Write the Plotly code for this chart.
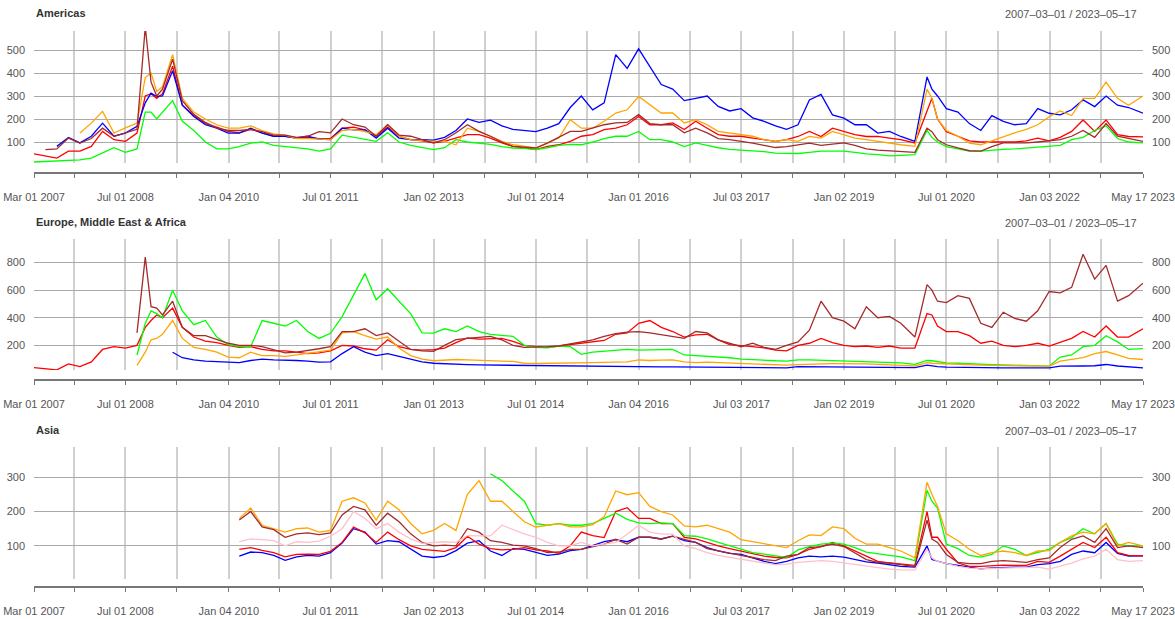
import plotly.graph_objects as go

# observation dates shared by every series (roughly bi-monthly, denser around the crises)
DATES = [
    "2007-03-01", "2007-05-01", "2007-07-01", "2007-09-01", "2007-11-01",
    "2008-01-01", "2008-03-01", "2008-05-01", "2008-07-01", "2008-09-01", "2008-10-15", "2008-11-15", "2008-12-15",
    "2009-01-15", "2009-03-10", "2009-05-01", "2009-07-01", "2009-09-01", "2009-11-01",
    "2010-01-01", "2010-03-01", "2010-05-01", "2010-07-01", "2010-09-01", "2010-11-01",
    "2011-01-01", "2011-03-01", "2011-05-01", "2011-07-01", "2011-09-01", "2011-11-01",
    "2012-01-01", "2012-03-01", "2012-05-01", "2012-07-01", "2012-09-01", "2012-11-01",
    "2013-01-01", "2013-03-01", "2013-05-01", "2013-07-01", "2013-09-01", "2013-11-01",
    "2014-01-01", "2014-03-01", "2014-05-01", "2014-07-01", "2014-09-01", "2014-11-01",
    "2015-01-01", "2015-03-01", "2015-05-01", "2015-07-01", "2015-09-01", "2015-11-01",
    "2016-01-01", "2016-03-01", "2016-05-01", "2016-07-01", "2016-09-01", "2016-11-01",
    "2017-01-01", "2017-03-01", "2017-05-01", "2017-07-01", "2017-09-01", "2017-11-01",
    "2018-01-01", "2018-03-01", "2018-05-01", "2018-07-01", "2018-09-01", "2018-11-01",
    "2019-01-01", "2019-03-01", "2019-05-01", "2019-07-01", "2019-09-01", "2019-11-01",
    "2020-01-15", "2020-03-20", "2020-04-15", "2020-05-15", "2020-07-01", "2020-09-01", "2020-11-01",
    "2021-01-01", "2021-03-01", "2021-05-01", "2021-07-01", "2021-09-01", "2021-11-01",
    "2022-01-01", "2022-03-01", "2022-05-01", "2022-07-01", "2022-09-01", "2022-11-01",
    "2023-01-01", "2023-03-01", "2023-05-17",
]
N = None

# ---- Americas
AM_RED = [
    48, 38, 30, 60, 60, 81, 146, 110, 103, 139,
    300, 310, 290, 310, 430, 260, 215, 180, 165, 146,
    140, 155, 140, 125, 125, 117, 120, 115, 115, 160,
    165, 153, 125, 165, 125, 110, 105, 96, 103, 117,
    132, 132, 117, 96, 81, 74, 67, 81, 88, 103,
    125, 132, 154, 160, 175, 211, 175, 175, 183, 154,
    190, 160, 132, 125, 125, 117, 110, 103, 110, 124,
    146, 124, 160, 146, 132, 124, 124, 117, 110, 96,
    230, 290, 200, 145, 125, 105, 100, 100, 103, 100,
    105, 117, 105, 120, 146, 196, 146, 196, 132, 124, 122,
]
AM_BLUE = [
    N, N, 81, 120, 96, 125, 182, 125, 139, 168,
    270, 312, 298, 300, 410, 260, 211, 175, 160, 139,
    139, 160, 139, 125, 125, 117, 125, 113, 110, 160,
    153, 153, 117, 160, 117, 110, 110, 108, 120, 150,
    200, 185, 195, 170, 155, 150, 145, 160, 180, 250,
    300, 240, 270, 480, 420, 505, 430, 350, 330, 280,
    290, 300, 255, 235, 245, 205, 190, 170, 155, 175,
    283, 307, 218, 204, 175, 175, 139, 146, 124, 103,
    383, 330, 300, 245, 230, 180, 150, 215, 190, 175,
    180, 245, 225, 218, 240, 283, 254, 300, 260, 250, 225,
]
AM_GREEN = [
    13, 15, 16, 18, 22, 30, 52, 75, 55, 70,
    230, 230, 200, 230, 280, 190, 150, 100, 70, 70,
    80, 95, 100, 85, 80, 75, 70, 60, 70, 130,
    120, 110, 103, 140, 100, 85, 75, 67, 75, 110,
    100, 96, 90, 80, 74, 72, 67, 75, 85, 90,
    88, 100, 115, 125, 125, 146, 110, 110, 100, 80,
    96, 85, 75, 68, 65, 60, 58, 52, 52, 50,
    55, 60, 60, 60, 55, 48, 45, 40, 42, 45,
    150, 120, 100, 80, 70, 60, 60, 65, 68, 70,
    74, 78, 80, 85, 110, 120, 150, 170, 115, 100, 96,
]
AM_ORANGE = [
    N, N, N, N, 139, 182, 233, 139, 161, 182,
    380, 400, 320, 340, 480, 290, 230, 200, 175, 160,
    160, 170, 150, 135, 130, 115, 115, 112, 110, 150,
    155, 145, 132, 175, 125, 110, 105, 103, 103, 88,
    160, 146, 125, 103, 88, 80, 74, 96, 117, 197,
    160, 160, 190, 226, 240, 298, 262, 226, 226, 183,
    197, 175, 146, 139, 132, 125, 110, 103, 110, 103,
    124, 117, 146, 132, 117, 110, 103, 93, 88, 81,
    330, 290, 200, 150, 125, 95, 88, 105, 124, 140,
    155, 175, 210, 235, 215, 290, 290, 360, 290, 260, 300,
]
AM_BROWN = [
    N, 67, 70, 117, 95, 115, 160, 125, 139, 155,
    600, 360, 300, 330, 460, 280, 220, 185, 160, 150,
    150, 155, 145, 130, 130, 120, 125, 145, 140, 200,
    175, 165, 125, 175, 130, 125, 110, 96, 110, 140,
    175, 146, 125, 100, 81, 76, 74, 95, 120, 146,
    146, 160, 175, 183, 185, 219, 180, 175, 175, 140,
    160, 140, 115, 110, 103, 95, 85, 76, 80, 88,
    95, 85, 92, 96, 85, 70, 65, 62, 58, 55,
    160, 145, 110, 88, 74, 62, 60, 80, 96, 96,
    96, 100, 105, 110, 125, 150, 120, 180, 125, 115, 103,
]

# ---- Europe, Middle East & Africa
EM_RED = [
    38, 31, 22, 65, 45, 80, 170, 190, 180, 200,
    330, 380, 420, 400, 470, 330, 260, 230, 220, 200,
    185, 190, 170, 160, 160, 150, 140, 145, 160, 200,
    195, 175, 165, 240, 190, 170, 165, 169, 180, 220,
    253, 245, 245, 250, 229, 200, 190, 185, 195, 205,
    215, 225, 235, 280, 290, 360, 380, 330, 300, 260,
    275, 280, 240, 205, 195, 190, 181, 165, 160, 200,
    215, 250, 220, 200, 190, 195, 185, 195, 180, 180,
    430, 420, 340, 300, 300, 270, 215, 230, 200, 190,
    200, 215, 195, 220, 250, 300, 260, 340, 260, 260, 320,
]
EM_BLUE = [
    N, N, N, N, N, N, N, N, N, N,
    N, N, N, N, 150, 110, 95, 85, 82, 80,
    75, 90, 100, 95, 95, 90, 85, 78, 80, 140,
    190, 150, 125, 140, 120, 100, 80, 70, 65, 62,
    60, 58, 57, 55, 52, 50, 49, 48, 47, 46,
    46, 45, 45, 45, 45, 44, 44, 43, 43, 42,
    42, 40, 39, 38, 37, 35, 34, 33, 37, 45,
    44, 42, 42, 43, 42, 42, 41, 40, 40, 38,
    56, 50, 45, 42, 40, 38, 37, 37, 36, 37,
    37, 37, 37, 49, 48, 50, 52, 61, 50, 42, 37,
]
EM_GREEN = [
    N, N, N, N, N, N, N, N, N, 130,
    360, 450, 430, 400, 600, 450, 350, 380, 260, 205,
    190, 190, 380, 360, 340, 380, 300, 250, 287, 408,
    565, 720, 530, 610, 520, 430, 290, 289, 320, 300,
    340, 300, 280, 270, 265, 200, 185, 182, 195, 190,
    135, 150, 155, 165, 170, 165, 165, 165, 170, 130,
    125, 122, 120, 110, 100, 95, 90, 88, 86, 95,
    95, 92, 90, 82, 80, 80, 78, 75, 72, 62,
    90, 88, 80, 73, 70, 65, 62, 60, 58, 56,
    53, 50, 49, 115, 130, 190, 200, 270, 225, 170, 176,
]
EM_ORANGE = [
    N, N, N, N, N, N, N, N, N, 55,
    150, 240, 250, 280, 380, 250, 185, 170, 150, 115,
    110, 150, 125, 125, 120, 130, 140, 150, 165, 290,
    300, 270, 245, 260, 180, 125, 100, 88, 95, 97,
    95, 90, 88, 85, 83, 70, 68, 70, 72, 75,
    78, 75, 76, 78, 80, 95, 90, 92, 95, 80,
    75, 78, 75, 70, 68, 65, 62, 58, 56, 60,
    65, 66, 67, 68, 67, 65, 62, 60, 55, 50,
    75, 70, 68, 65, 62, 58, 56, 54, 52, 50,
    50, 49, 49, 85, 95, 110, 140, 155, 130, 105, 97,
]
EM_BROWN = [
    N, N, N, N, N, N, N, N, N, 290,
    840, 480, 470, 420, 520, 330, 270, 270, 240, 215,
    200, 200, 190, 165, 145, 150, 160, 175, 190, 300,
    300, 320, 270, 290, 230, 170, 160, 157, 200, 241,
    250, 255, 265, 240, 200, 185, 185, 190, 195, 210,
    220, 240, 265, 285, 295, 300, 290, 275, 265, 250,
    300, 290, 240, 215, 190, 215, 185, 170, 200, 225,
    310, 520, 400, 375, 320, 480, 400, 410, 360, 260,
    640, 600, 520, 510, 560, 540, 360, 330, 440, 395,
    375, 450, 590, 580, 620, 860, 680, 780, 520, 560, 650,
]

# ---- Asia
AS_BLUE = [
    N, N, N, N, N, N, N, N, N, N,
    N, N, N, N, N, N, N, N, N, N,
    70, 82, 80, 72, 58, 68, 72, 70, 80, 108,
    150, 140, 105, 115, 112, 90, 70, 66, 70, 86,
    108, 115, 85, 72, 92, 90, 80, 72, 76, 86,
    90, 102, 112, 118, 112, 125, 125, 120, 128, 115,
    110, 95, 85, 78, 75, 65, 55, 48, 55, 65,
    70, 68, 70, 67, 60, 53, 50, 45, 40, 38,
    100, 60, 55, 48, 43, 38, 33, 36, 38, 38,
    38, 45, 48, 55, 75, 85, 80, 110, 78, 70, 71,
]
AS_RED = [
    N, N, N, N, N, N, N, N, N, N,
    N, N, N, N, N, N, N, N, N, N,
    90, 95, 87, 80, 68, 75, 76, 75, 84, 110,
    155, 138, 110, 140, 118, 100, 90, 88, 84, 95,
    128, 105, 92, 88, 90, 95, 88, 85, 78, 100,
    140, 130, 124, 200, 211, 180, 180, 165, 165, 125,
    120, 110, 100, 92, 85, 76, 70, 66, 65, 75,
    90, 98, 110, 100, 86, 70, 55, 50, 46, 43,
    200, 125, 125, 90, 50, 40, 40, 43, 44, 43,
    43, 55, 52, 70, 90, 110, 95, 125, 80, 72, 71,
]
AS_GREEN = [
    N, N, N, N, N, N, N, N, N, N,
    N, N, N, N, N, N, N, N, N, N,
    N, N, N, N, N, N, N, N, N, N,
    N, N, N, N, N, N, N, N, N, N,
    N, N, 310, 290, 260, 230, 165, 160, 165, 160,
    160, 165, 180, 195, 177, 167, 165, 167, 165, 130,
    128, 120, 110, 100, 88, 80, 76, 70, 66, 88,
    98, 105, 108, 105, 95, 82, 76, 72, 68, 57,
    262, 230, 210, 105, 92, 72, 67, 75, 100, 90,
    72, 80, 90, 110, 124, 150, 135, 165, 105, 100, 100,
]
AS_ORANGE = [
    N, N, N, N, N, N, N, N, N, N,
    N, N, N, N, N, N, N, N, N, N,
    180, 210, 160, 150, 140, 150, 152, 140, 145, 230,
    240, 225, 175, 230, 205, 165, 135, 145, 165, 145,
    250, 290, 230, 230, 200, 170, 155, 160, 165, 155,
    155, 162, 185, 260, 249, 255, 215, 200, 190, 158,
    155, 160, 150, 140, 118, 112, 108, 100, 95, 115,
    132, 130, 155, 150, 122, 105, 105, 95, 85, 65,
    285, 250, 215, 135, 115, 90, 72, 80, 85, 80,
    72, 85, 86, 110, 129, 140, 135, 165, 100, 110, 100,
]
AS_BROWN = [
    N, N, N, N, N, N, N, N, N, N,
    N, N, N, N, N, N, N, N, N, N,
    175, 200, 155, 147, 125, 135, 138, 133, 138, 190,
    215, 205, 160, 195, 170, 135, 110, 100, 102, 100,
    150, 140, 115, 110, 102, 100, 92, 80, 82, 90,
    90, 98, 105, 119, 105, 125, 125, 120, 128, 119,
    110, 92, 85, 78, 72, 66, 60, 57, 70, 75,
    95, 98, 105, 98, 80, 60, 52, 50, 45, 40,
    175, 120, 110, 75, 52, 48, 48, 55, 57, 55,
    52, 60, 65, 95, 119, 129, 110, 150, 95, 100, 95,
]
AS_PINK = [
    N, N, N, N, N, N, N, N, N, N,
    N, N, N, N, N, N, N, N, N, N,
    112, 120, 118, 115, 100, 112, 110, 114, 128, 150,
    200, 180, 150, 165, 140, 120, 107, 110, 112, 110,
    130, 129, 129, 160, 148, 135, 125, 110, 100, 100,
    110, 100, 105, 110, 134, 160, 140, 134, 134, 100,
    92, 80, 72, 66, 62, 55, 50, 45, 47, 52,
    55, 57, 55, 50, 45, 40, 35, 32, 30, 29,
    90, 65, 55, 48, 40, 35, 33, 34, 35, 35,
    37, 38, 32, 40, 50, 62, 70, 90, 60, 55, 57,
]

# vertical grid / tick positions and their labels
GRID_DATES = [
    "2007-03-01", "2007-10-01", "2008-07-01", "2009-04-01", "2010-01-04", "2010-10-01",
    "2011-07-01", "2012-04-02", "2013-01-02", "2013-10-01", "2014-07-01", "2015-04-01",
    "2016-01-01", "2016-10-03", "2017-07-03", "2018-04-02", "2019-01-02", "2019-10-01",
    "2020-07-01", "2021-04-01", "2022-01-03", "2022-10-03", "2023-05-17",
]
LABELS_A = [
    "Mar 01 2007", "", "Jul 01 2008", "", "Jan 04 2010", "", "Jul 01 2011", "",
    "Jan 02 2013", "", "Jul 01 2014", "", "Jan 01 2016", "", "Jul 03 2017", "",
    "Jan 02 2019", "", "Jul 01 2020", "", "Jan 03 2022", "", "May 17 2023",
]
LABELS_B = [
    "Mar 01 2007", "", "Jul 01 2008", "", "Jan 04 2010", "", "Jul 01 2011", "",
    "Jan 01 2013", "", "Jul 01 2014", "", "Jan 04 2016", "", "Jul 03 2017", "",
    "Jan 02 2019", "", "Jul 01 2020", "", "Jan 03 2022", "", "May 17 2023",
]

PANELS = [
    dict(title="Americas", labels=LABELS_A, yrange=[8.7, 582.6], yticks=[100, 200, 300, 400, 500],
         series=[("red", AM_RED), ("blue", AM_BLUE), ("#00FF00", AM_GREEN),
                 ("orange", AM_ORANGE), ("brown", AM_BROWN)]),
    dict(title="Europe, Middle East & Africa", labels=LABELS_B, yrange=[21, 971], yticks=[200, 400, 600, 800],
         series=[("red", EM_RED), ("blue", EM_BLUE), ("#00FF00", EM_GREEN),
                 ("orange", EM_ORANGE), ("brown", EM_BROWN)]),
    dict(title="Asia", labels=LABELS_A, yrange=[3.4, 388], yticks=[100, 200, 300],
         series=[("blue", AS_BLUE), ("red", AS_RED), ("#00FF00", AS_GREEN),
                 ("orange", AS_ORANGE), ("brown", AS_BROWN), ("pink", AS_PINK)]),
]

H = 619
PLOT_TOP = [31, 239, 447]
PLOT_BOTTOM = [163, 370, 579]
AXIS_Y = [173, 380, 587]
TITLE_Y = [13, 222, 430]
FONT = "Liberation Sans, Arial, sans-serif"


def paper(px):
    return 1 - px / H


fig = go.Figure()
layout = dict(
    width=1175, height=H, autosize=False,
    margin=dict(l=34, r=32, t=0, b=0, autoexpand=False),
    paper_bgcolor="white", plot_bgcolor="white",
    showlegend=False, font=dict(family=FONT, size=11, color="#333333"),
    annotations=[],
)

for i, p in enumerate(PANELS):
    k = "" if i == 0 else str(i + 1)
    rk = str(i + 4)
    for color, vals in p["series"]:
        assert len(vals) == len(DATES)
        fig.add_trace(go.Scatter(
            x=DATES, y=vals, mode="lines", xaxis="x" + k, yaxis="y" + k,
            line=dict(color=color, width=1.3), hoverinfo="skip",
        ))
    # invisible trace so the right-hand tick axis gets drawn
    fig.add_trace(go.Scatter(x=[DATES[0]], y=[p["yticks"][0]], mode="lines",
                             xaxis="x" + k, yaxis="y" + rk, opacity=0, hoverinfo="skip"))

    layout["xaxis" + k] = dict(
        type="date", range=[DATES[0], DATES[-1]], domain=[0, 1],
        anchor="free", position=paper(AXIS_Y[i]), automargin=False,
        tickmode="array", tickvals=GRID_DATES, ticktext=p["labels"],
        showgrid=True, gridcolor="#d0d0d0", gridwidth=2,
        showline=True, linecolor="#777777", linewidth=1.5,
        ticks="outside", ticklen=4, tickcolor="#777777",
        ticklabelstandoff=10, tickfont=dict(size=11, color="#555555"),
        zeroline=False,
    )
    ydom = [paper(PLOT_BOTTOM[i]), paper(PLOT_TOP[i])]
    yax = dict(
        domain=ydom, range=p["yrange"], anchor="x" + k, automargin=False,
        tickmode="array", tickvals=p["yticks"],
        showgrid=False, zeroline=False, showline=False,
        ticks="", ticklabelstandoff=8, tickfont=dict(size=11, color="#555555"),
    )
    layout["yaxis" + k] = dict(yax, showgrid=True, gridcolor="#aaaaaa", gridwidth=1.2, side="left")
    layout["yaxis" + rk] = dict(yax, overlaying="y" + k, side="right")

    layout["annotations"].append(dict(
        text="<b>" + p["title"] + "</b>", x=0, y=paper(TITLE_Y[i]), xref="paper", yref="paper",
        xanchor="left", yanchor="middle", showarrow=False,
        font=dict(size=11, color="#333333", family=FONT),
    ))
    layout["annotations"].append(dict(
        text="2007\u201303\u201301 / 2023\u201305\u201317", x=1, y=paper(TITLE_Y[i] + 1),
        xref="paper", yref="paper", xanchor="right", yanchor="middle", xshift=-4,
        showarrow=False, font=dict(size=11, color="#555555", family=FONT),
    ))

fig.update_layout(**layout)
# the page's default body margin would shift the figure by 8px
fig.write_html("out.html", config={"displayModeBar": False},
               post_script="document.body.style.margin='0';")
